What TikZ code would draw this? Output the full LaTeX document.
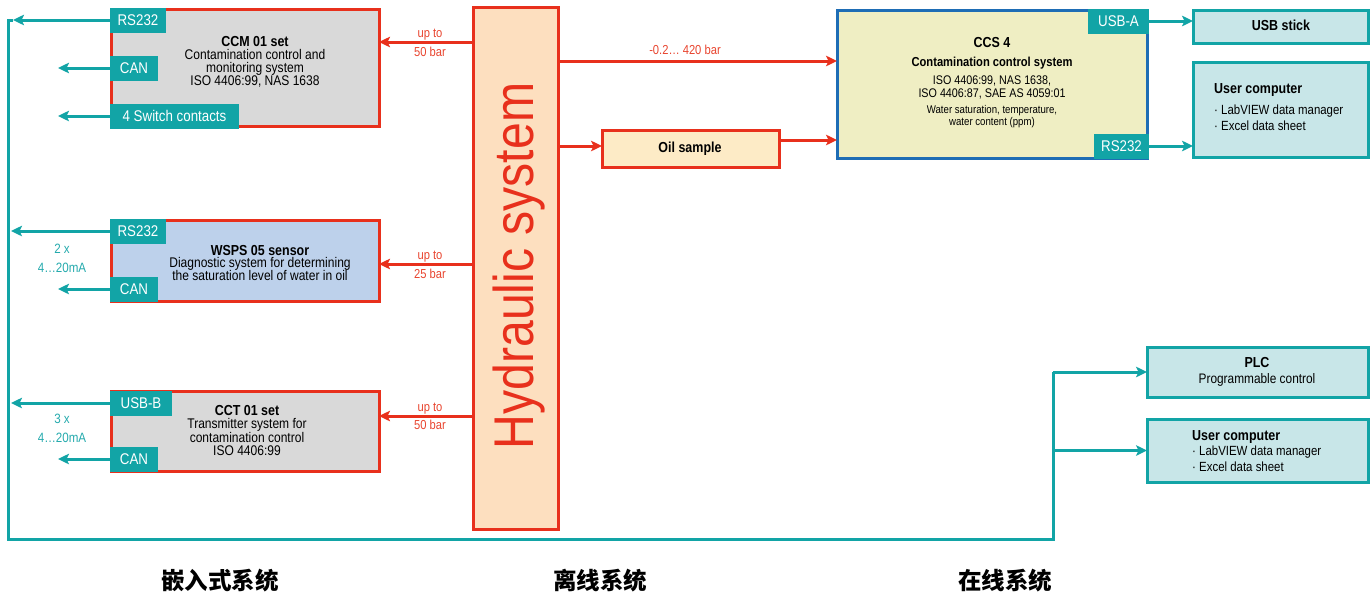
\documentclass[tikz,border=0pt]{standalone}
\usepackage{fontspec}
\setmainfont{Liberation Sans}[FakeStretch=0.86]
\newfontfamily\cjk{Noto Sans CJK SC}
\newfontfamily\hydfont{Liberation Sans}[FakeStretch=0.86]
\usetikzlibrary{arrows.meta}
\definecolor{tealc}{HTML}{12A4A6}
\definecolor{tealtxt}{HTML}{25AAAD}
\definecolor{redc}{HTML}{E8301C}
\definecolor{redtxt}{HTML}{E8442E}
\definecolor{hydfill}{HTML}{FDDFBF}
\definecolor{grayfill}{HTML}{D9D9D9}
\definecolor{bluefill}{HTML}{BDD1EB}
\definecolor{oilfill}{HTML}{FDEBC6}
\definecolor{ccsfill}{HTML}{EFEEC3}
\definecolor{ccsblue}{HTML}{1E6DB5}
\definecolor{tealfill}{HTML}{C8E6E8}
\newcommand{\fsz}[1]{\fontsize{#1}{#1}\selectfont}
\begin{document}
\begin{tikzpicture}[x=1pt,y=-1pt,
 box/.style={draw=redc, line width=3pt, anchor=north west, inner sep=0pt, outer sep=0pt},
 tbox/.style={draw=tealc, fill=tealfill, line width=3pt, anchor=north west, inner sep=0pt, outer sep=0pt},
 tag/.style={fill=tealc, text=white, anchor=west, inner sep=0pt, outer sep=0pt, minimum height=25pt, font=\fsz{15.5}},
 txt/.style={inner sep=0pt, anchor=base, font=\fsz{14}},
 ttl/.style={inner sep=0pt, anchor=base, font=\fsz{14.5}\bfseries},
 ltxt/.style={inner sep=0pt, anchor=base west, font=\fsz{13.3}},
 lttl/.style={inner sep=0pt, anchor=base west, font=\fsz{14.5}\bfseries},
 rlab/.style={inner sep=0pt, anchor=base, text=redtxt, font=\fsz{13}},
 tlab/.style={inner sep=0pt, anchor=base, text=tealtxt, font=\fsz{13.5}},
 rarr/.style={draw=redc, line width=3pt, -{Stealth[length=11pt,width=10.5pt,inset=2.5pt]}},
 tarr/.style={draw=tealc, line width=3pt, -{Stealth[length=11pt,width=10.5pt,inset=2.5pt]}},
 tline/.style={draw=tealc, line width=3pt},
 cjklab/.style={inner sep=0pt, anchor=center, font=\cjk\bfseries\fsz{23.5}}
]
\useasboundingbox (0,0) rectangle (1372,597);

% ---------- left boxes ----------
\node[box, fill=grayfill, minimum width=268pt, minimum height=117pt] (ccm) at (111,9) {};
\node[box, fill=bluefill, minimum width=268pt, minimum height=81pt] (wsps) at (111,220) {};
\node[box, fill=grayfill, minimum width=268pt, minimum height=80pt] (cct) at (111,391) {};

\node[tag, minimum width=56pt] (ccmRS) at (110,20) {RS232};
\node[tag, minimum width=48pt] (ccmCAN) at (110,68) {CAN};
\node[tag, minimum width=129pt] (ccmSW) at (110,116) {4 Switch contacts};
\node[tag, minimum width=56pt] (wsRS) at (110,231) {RS232};
\node[tag, minimum width=48pt] (wsCAN) at (110,289) {CAN};
\node[tag, minimum width=62pt] (ctUSB) at (110,403) {USB-B};
\node[tag, minimum width=48pt] (ctCAN) at (110,459) {CAN};

\node[ttl] (ccmA) at (255,46) {CCM 01 set};
\node[txt] (ccmB) at (255,59) {Contamination control and};
\node[txt] (ccmC) at (255,72) {monitoring system};
\node[txt] (ccmD) at (255,85) {ISO 4406:99, NAS 1638};

\node[ttl] (wsA) at (260,255) {WSPS 05 sensor};
\node[txt] (wsB) at (260,267) {Diagnostic system for determining};
\node[txt] (wsC) at (260,280) {the saturation level of water in oil};

\node[ttl] (ctA) at (247,415) {CCT 01 set};
\node[txt] (ctB) at (247,428) {Transmitter system for};
\node[txt] (ctC) at (247,442) {contamination control};
\node[txt] (ctD) at (247,455) {ISO 4406:99};

\node[tlab] (l2x) at (62,253) {2 x};
\node[tlab] (l2m) at (62,272) {4\ldots20mA};
\node[tlab] (l3x) at (62,423) {3 x};
\node[tlab] (l3m) at (62,442) {4\ldots20mA};

% ---------- hydraulic ----------
\node[box, fill=hydfill, minimum width=85pt, minimum height=522pt] (hyd) at (473,7) {};
\node[rotate=90, anchor=base, inner sep=0pt, text=redc, font=\hydfont\fsz{56}] (hydT) at (533,266) {Hydraulic system};

\node[rlab] (r1a) at (430,37) {up to};
\node[rlab] (r1b) at (430,56) {50 bar};
\node[rlab] (r2a) at (430,259) {up to};
\node[rlab] (r2b) at (430,278) {25 bar};
\node[rlab] (r3a) at (430,411) {up to};
\node[rlab] (r3b) at (430,429) {50 bar};
\node[rlab] (r4) at (685,54) {-0.2\ldots\ 420 bar};

% ---------- oil & CCS ----------
\node[box, fill=oilfill, minimum width=177pt, minimum height=37pt] (oil) at (602,130) {};
\node[ttl] (oilT) at (690,152) {Oil sample};

\node[box, draw=ccsblue, fill=ccsfill, minimum width=310pt, minimum height=148pt] (ccs) at (837,10) {};
\node[tag, minimum width=61pt] (usbA) at (1088,21) {USB-A};
\node[tag, minimum width=55pt] (ccsRS) at (1094,146) {RS232};
\node[ttl] (ccsA) at (992,47) {CCS 4};
\node[ttl, font=\fsz{13}\bfseries] (ccsB) at (992,66) {Contamination control system};
\node[txt, font=\fsz{12.5}] (ccsC) at (992,84) {ISO 4406:99, NAS 1638,};
\node[txt, font=\fsz{12.5}] (ccsD) at (992,97) {ISO 4406:87, SAE AS 4059:01};
\node[txt, font=\fsz{11.2}] (ccsE) at (992,113) {Water saturation, temperature,};
\node[txt, font=\fsz{11.2}] (ccsF) at (992,125) {water content (ppm)};

% ---------- right boxes ----------
\node[tbox, minimum width=175pt, minimum height=33pt] (stick) at (1193,10) {};
\node[ttl] (stickT) at (1281,30) {USB stick};
\node[tbox, minimum width=175pt, minimum height=95pt] (uc1) at (1193,62) {};
\node[lttl] (uc1A) at (1214,93) {User computer};
\node[ltxt] (uc1B) at (1214,114) {· LabVIEW data manager};
\node[ltxt] (uc1C) at (1214,130) {· Excel data sheet};

\node[tbox, minimum width=221pt, minimum height=50pt] (plc) at (1147,347) {};
\node[ttl] (plcA) at (1257,367) {PLC};
\node[txt, font=\fsz{13.8}] (plcB) at (1257,383) {Programmable control};
\node[tbox, minimum width=221pt, minimum height=63pt] (uc2) at (1147,419) {};
\node[lttl] (uc2A) at (1192,440) {User computer};
\node[ltxt] (uc2B) at (1192,455) {· LabVIEW data manager};
\node[ltxt] (uc2C) at (1192,471) {· Excel data sheet};

% ---------- chinese labels ----------
\node[cjklab] (zhA) at (220,581) {嵌入式系统};
\node[cjklab] (zhB) at (600,581) {离线系统};
\node[cjklab] (zhC) at (1005,581) {在线系统};

% ---------- coordinates ----------
\coordinate (y42) at (0,42);
\coordinate (y264) at (0,264);
\coordinate (y416) at (0,416);
\coordinate (y61) at (0,61);
\coordinate (y146) at (0,146);
\coordinate (y140) at (0,140);
\coordinate (e1) at (13,20);
\coordinate (bTop) at (8,20);
\coordinate (bBot) at (8,539);
\coordinate (bCor) at (1053,539);
\coordinate (bTurn) at (1053,372);
\coordinate (e2) at (11,231);
\coordinate (e3) at (11,403);
\coordinate (c1) at (58,68);
\coordinate (c2) at (58,116);
\coordinate (c3) at (58,289);
\coordinate (c4) at (58,459);

% ---------- red connectors ----------
\draw[rarr] (hyd.west |- y42) -- (ccm.east |- y42);
\draw[rarr] (hyd.west |- y264) -- (wsps.east |- y264);
\draw[rarr] (hyd.west |- y416) -- (cct.east |- y416);
\draw[rarr] (hyd.east |- y61) -- (ccs.west |- y61);
\draw[rarr] (hyd.east |- y146) -- (oil.west |- y146);
\draw[rarr] (oil.east |- y140) -- (ccs.west |- y140);

% ---------- teal connectors ----------
\draw[tline] (e1) -- (bTop) -- (bBot) -- (bCor) -- (bTurn);
\draw[tarr] (ccmRS.west) -- (e1);
\draw[tarr] (bTurn) -- (plc.west);
\draw[tarr] (bTurn |- uc2.west) -- (uc2.west);
\draw[tarr] (wsRS.west) -- (e2);
\draw[tarr] (ctUSB.west) -- (e3);
\draw[tarr] (ccmCAN.west) -- (c1);
\draw[tarr] (ccmSW.west) -- (c2);
\draw[tarr] (wsCAN.west) -- (c3);
\draw[tarr] (ctCAN.west) -- (c4);
\draw[tarr] (usbA.east) -- (stick.west |- usbA.east);
\draw[tarr] (ccsRS.east) -- (uc1.west |- ccsRS.east);
\end{tikzpicture}
\end{document}
